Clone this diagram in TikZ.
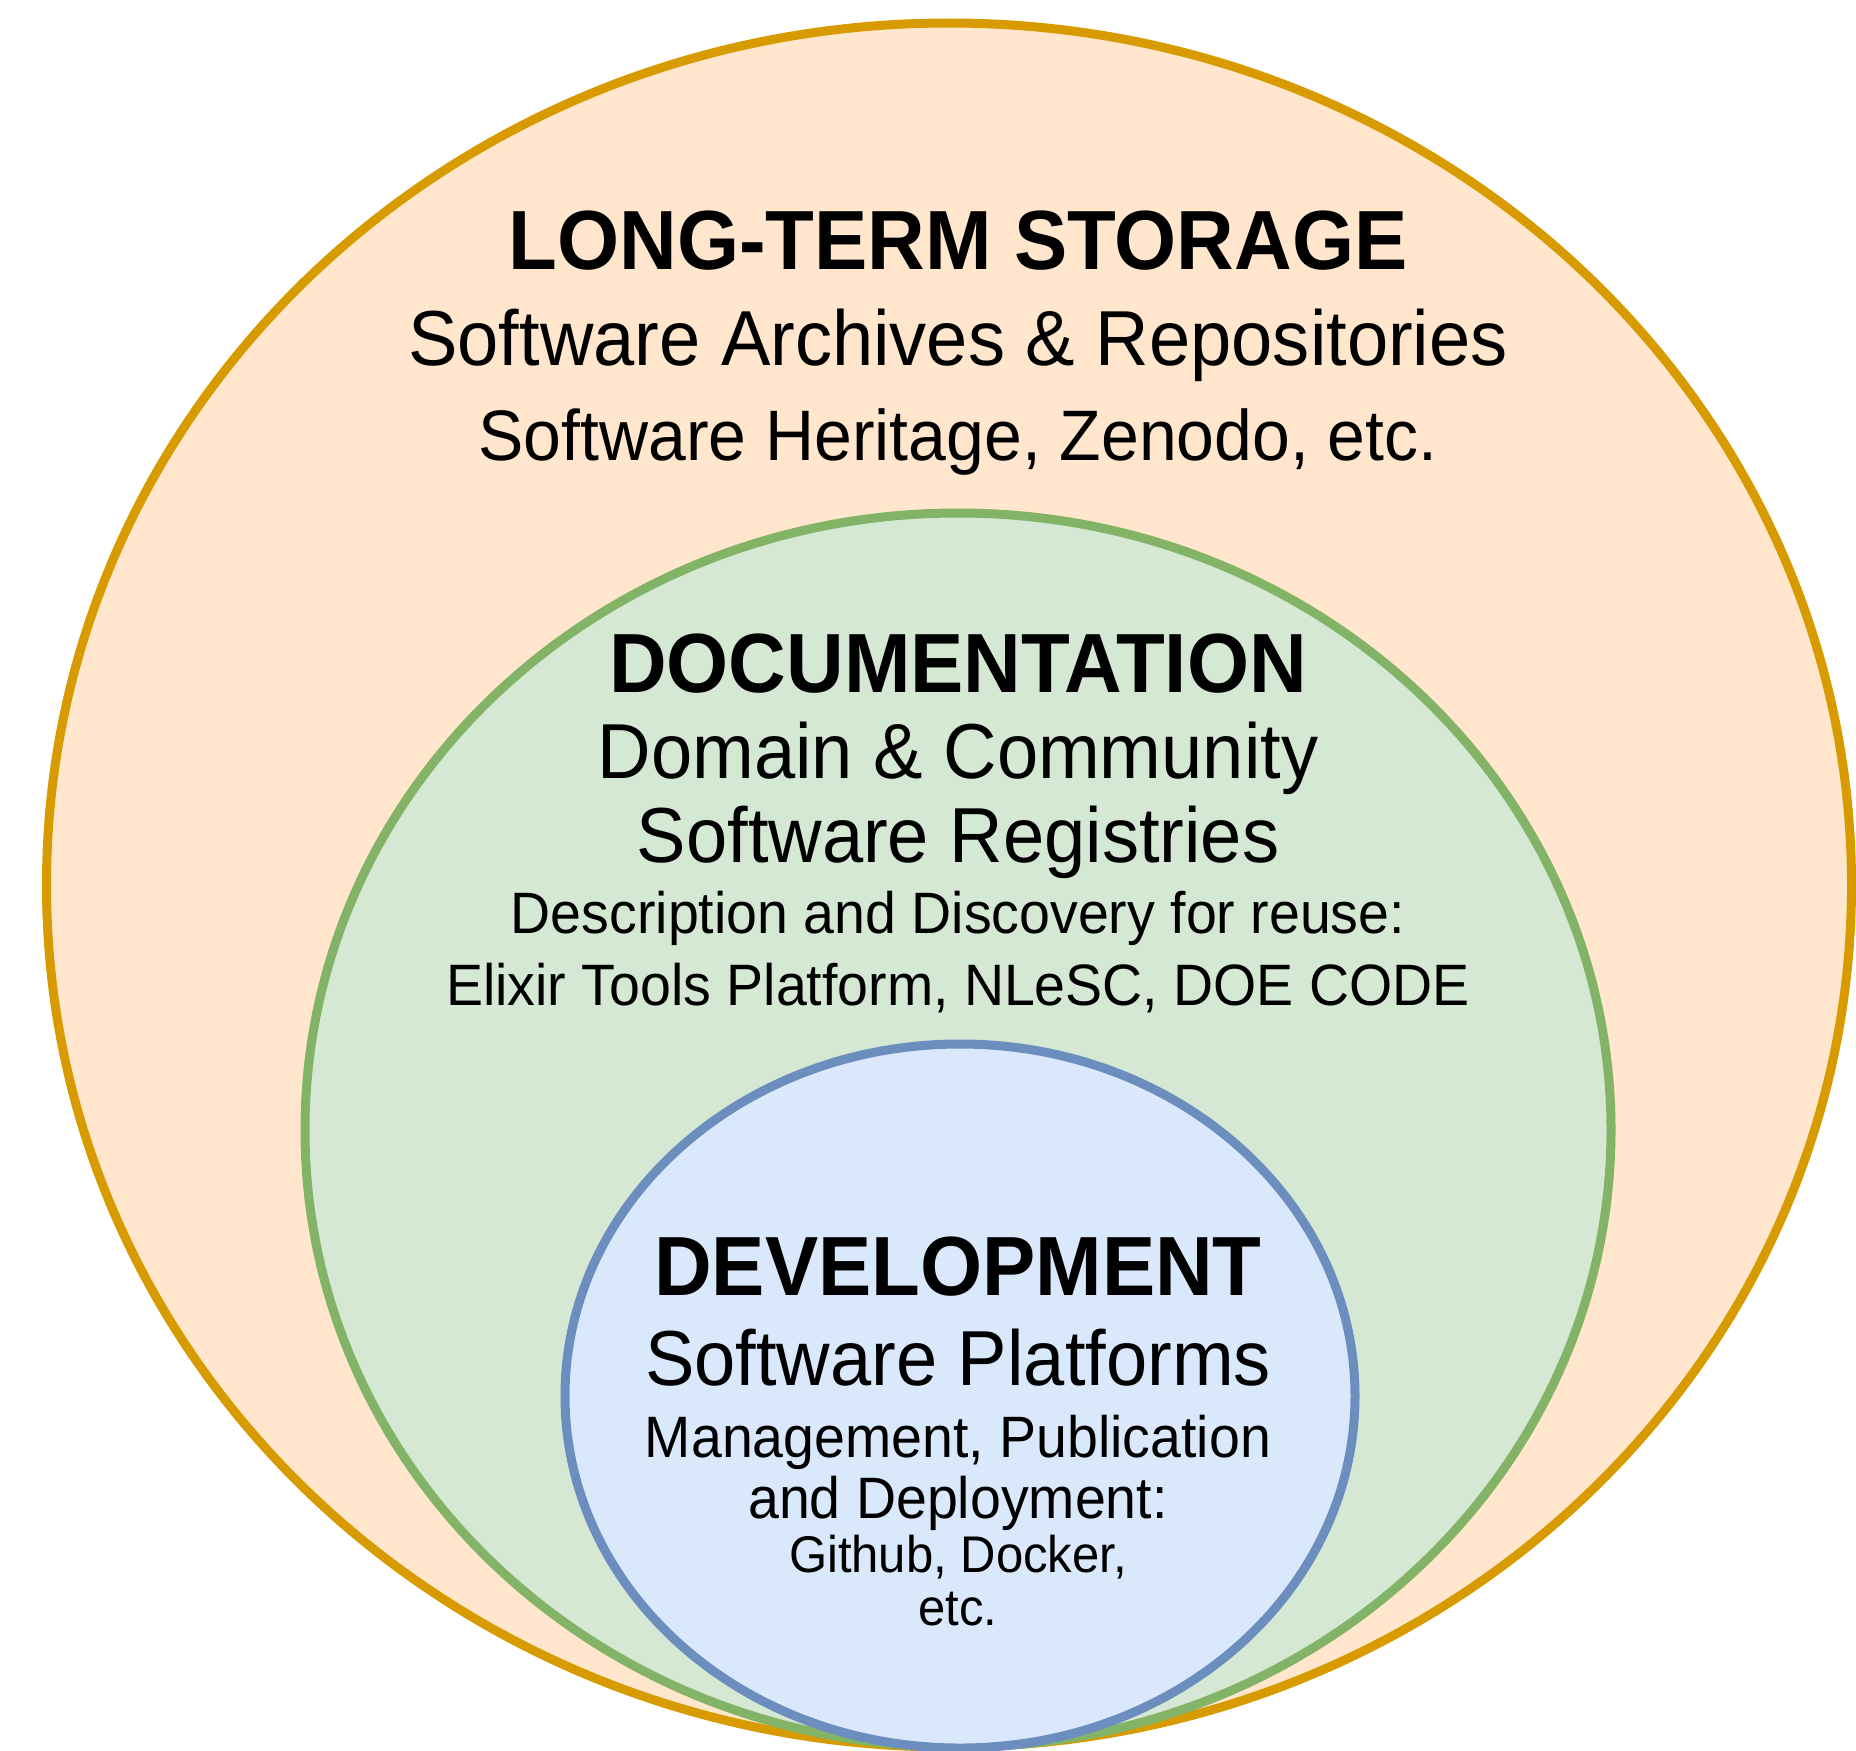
\documentclass[tikz,border=0pt]{standalone}
\usepackage{fontspec}
\setmainfont{Liberation Sans}[FakeStretch=0.95]
\usepackage{tikz}
\usetikzlibrary{shapes.geometric}
\definecolor{StoreFill}{HTML}{FFE6CC}
\definecolor{StoreLine}{HTML}{D79B00}
\definecolor{DocFill}{HTML}{D5E8D4}
\definecolor{DocLine}{HTML}{82B366}
\definecolor{DevFill}{HTML}{DAE8FC}
\definecolor{DevLine}{HTML}{6C8EBF}

\begin{document}
\begin{tikzpicture}[x=0.5pt, y=-0.5pt,
    every node/.style={inner sep=0pt, outer sep=0pt},
    layer/.style={shape=ellipse, line width=4.5pt},
    headline/.style={anchor=base, font=\fontsize{42pt}{48pt}\selectfont\bfseries},
    subline/.style={anchor=base, font=\fontsize{39pt}{45pt}\selectfont},
    exline/.style={anchor=base, font=\fontsize{35.75pt}{42pt}\selectfont},
    noteline/.style={anchor=base, font=\fontsize{29.2pt}{35pt}\selectfont},
    smallline/.style={anchor=base, font=\fontsize{25.8pt}{31pt}\selectfont}]
    \useasboundingbox (0,0) rectangle (1856,1750);

    % the three nested layers
    \node[layer, draw=StoreLine, fill=StoreFill, minimum width=902.5pt, minimum height=862pt] (store) at (949,885)  {};
    \node[layer, draw=DocLine,   fill=DocFill,   minimum width=653pt,   minimum height=617pt] (doc)   at (958,1130) {};
    \node[layer, draw=DevLine,   fill=DevFill,   minimum width=395pt,   minimum height=352pt] (dev)   at (960,1396) {};

    % long-term storage
    \node[headline]  (storetitle) at (958,269)  {LONG-TERM STORAGE};
    \node[subline]   (storesub)   at (958,365)  {Software Archives \& Repositories};
    \node[exline]    (storeex)    at (958,460)  {Software Heritage, Zenodo, etc.};

    % documentation
    \node[headline]  (doctitle)   at (958,692)  {DOCUMENTATION};
    \node[subline]   (docsubA)    at (958,778)  {Domain \& Community};
    \node[subline]   (docsubB)    at (958,862)  {Software Registries};
    \node[noteline]  (docnoteA)   at (958,933)  {Description and Discovery for reuse:};
    \node[noteline]  (docnoteB)   at (958,1005) {Elixir Tools Platform, NLeSC, DOE CODE};

    % development
    \node[headline]  (devtitle)   at (958,1295) {DEVELOPMENT};
    \node[subline]   (devsub)     at (958,1385) {Software Platforms};
    \node[noteline]  (devnoteA)   at (958,1457) {Management, Publication};
    \node[noteline]  (devnoteB)   at (958,1518) {and Deployment:};
    \node[smallline] (devexA)     at (958,1572) {Github, Docker,};
    \node[smallline] (devexB)     at (958,1625) {etc.};
\end{tikzpicture}
\end{document}
